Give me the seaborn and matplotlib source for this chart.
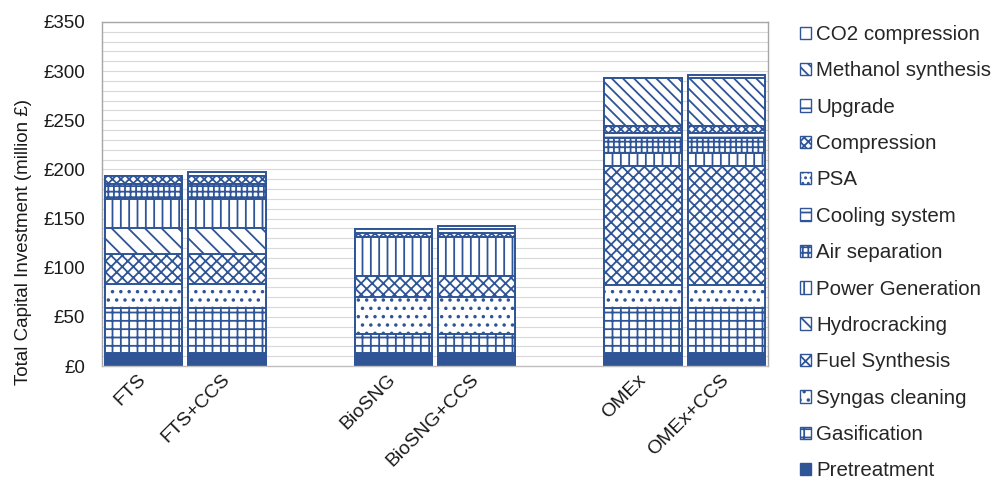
import numpy as np
import pandas as pd
import matplotlib
matplotlib.use("Agg")
import matplotlib.pyplot as plt
from matplotlib.patches import Patch
from matplotlib.ticker import MultipleLocator, FuncFormatter
import seaborn as sns

# ---------------- data ----------------
scenarios = ["FTS", "FTS+CCS", "BioSNG", "BioSNG+CCS", "OMEx", "OMEx+CCS"]
axis_order = ["FTS", "FTS+CCS", " ", "BioSNG", "BioSNG+CCS", "  ", "OMEx", "OMEx+CCS"]

components = ["Pretreatment", "Gasification", "Syngas cleaning", "Fuel Synthesis",
              "Hydrocracking", "Power Generation", "Air separation", "Cooling system",
              "PSA", "Compression", "Upgrade", "Methanol synthesis", "CO2 compression"]

pretreatment       = [13, 13, 13, 13, 13.5, 13.5]
gasification       = [46, 46, 20, 20, 45.5, 45.5]
syngas_cleaning    = [24, 24, 37, 37, 23, 23]
fuel_synthesis     = [31, 31, 22, 22, 121, 121]
hydrocracking      = [26, 26, 0, 0, 0, 0]
power_generation   = [30, 30, 39, 39, 13.5, 13.5]
air_separation     = [15, 15, 0, 0, 15.5, 15.5]
cooling_system     = [0, 0, 0, 0, 5, 5]
psa                = [0, 0, 0, 0, 0, 0]
compression        = [8, 8, 4, 4, 7.5, 7.5]
upgrade            = [0, 0, 4, 4, 0, 0]
methanol_synthesis = [0, 0, 0, 0, 48.5, 48.5]
co2_compression    = [0, 4, 0, 3, 0, 3.5]

hatches = [None, "++", "..", "xxx", "\\\\", "||", "+++", "--", "...", "xxxx", "-",
           "\\\\\\", ""]

# ---------------- style ----------------
BLUE = "#2F5597"
sns.set_theme(style="white")
plt.rcParams["font.family"] = ["Liberation Sans", "DejaVu Sans"]
plt.rcParams["hatch.linewidth"] = 1.3
plt.rcParams["hatch.color"] = BLUE

values = np.array([pretreatment, gasification, syngas_cleaning, fuel_synthesis,
                   hydrocracking, power_generation, air_separation, cooling_system,
                   psa, compression, upgrade, methanol_synthesis, co2_compression],
                  dtype=float)
cum = np.cumsum(values, axis=0)

fig = plt.figure(figsize=(9.95, 4.86), dpi=100)
ax = fig.add_axes([102 / 995, 1 - 366 / 486, (768 - 102) / 995, (366 - 22) / 486])

# stacked bars: draw cumulative totals from the top layer downwards
for i in reversed(range(len(components))):
    df = pd.DataFrame({"scenario": scenarios, "cost": cum[i]})
    solid = hatches[i] is None
    sns.barplot(data=df, x="scenario", y="cost", order=axis_order, width=0.93,
                errorbar=None, ax=ax,
                facecolor=BLUE if solid else "white",
                edgecolor=BLUE, linewidth=1.4,
                hatch=None if solid else hatches[i])

ax.set_ylim(0, 350)
ax.yaxis.set_major_locator(MultipleLocator(50))
ax.yaxis.set_minor_locator(MultipleLocator(10))
ax.yaxis.set_major_formatter(FuncFormatter(lambda v, p: f"£{v:.0f}"))
ax.grid(True, which="both", axis="y", color="#D9D9D9", linewidth=0.8)
ax.set_axisbelow(True)
for s in ax.spines.values():
    s.set_visible(True)
    s.set_color("#A6A6A6")
    s.set_linewidth(1.0)
ax.spines["bottom"].set_color("#BFBFBF")
ax.tick_params(axis="both", which="both", length=0, colors="#1A1A1A")
ax.tick_params(axis="y", labelsize=13.5, pad=12)
ax.tick_params(axis="x", labelsize=14, pad=8)

ax.set_xticks(range(len(axis_order)))
ax.set_xticklabels(axis_order, rotation=45, ha="right", va="center",
                   rotation_mode="anchor")
ax.set_xlabel("")
ax.set_ylabel("Total Capital Investment (million £)", fontsize=13.5, color="#1A1A1A")
ax.yaxis.set_label_coords(-0.105, 0.36)

# legend (reversed order, like the stack)
handles = []
for i in reversed(range(len(components))):
    solid = hatches[i] is None
    handles.append(Patch(facecolor=BLUE if solid else "white", edgecolor=BLUE,
                         hatch=None if solid else hatches[i], linewidth=1.0,
                         label=components[i]))
fig.legend(handles=handles, loc="upper left", bbox_to_anchor=(800 / 995, 1 - 25 / 486),
           frameon=False, fontsize=14.8, handlelength=0.55, handleheight=0.55,
           handletextpad=0.25, labelspacing=0.845, borderpad=0, borderaxespad=0)

fig.savefig("out.png", dpi=100)
